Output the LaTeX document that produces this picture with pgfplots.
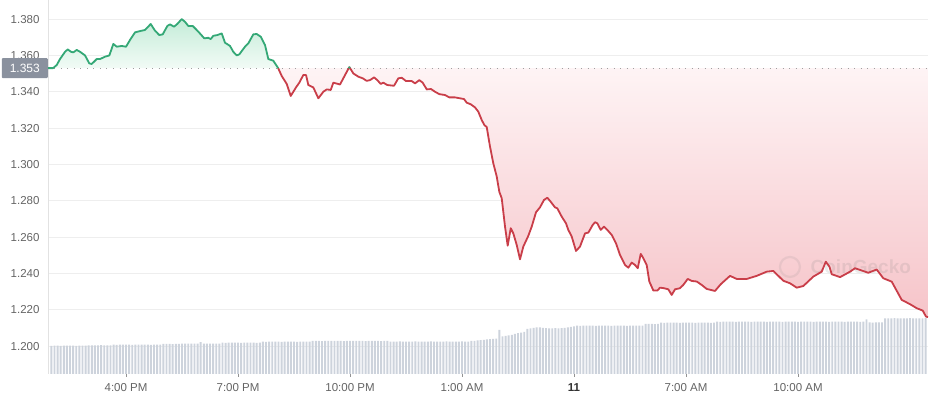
\documentclass[border=0pt]{standalone}
\usepackage{fontspec}
\setmainfont{Liberation Sans}
\usepackage{pgfplots}
\usepackage{pgfplotstable}
\pgfplotsset{compat=1.18}
\definecolor{upgreen}{RGB}{52,168,118}
\definecolor{downred}{RGB}{201,62,73}
\definecolor{gridgray}{RGB}{238,238,238}
\definecolor{leftline}{RGB}{226,226,226}
\definecolor{labgray}{RGB}{100,100,100}
\definecolor{volgray}{RGB}{205,211,220}
\definecolor{badgegray}{RGB}{138,145,158}
\definecolor{gtop}{RGB}{196,236,216}
\definecolor{gbot}{RGB}{242,251,246}
\definecolor{rtop}{RGB}{254,244,245}
\definecolor{rbot}{RGB}{246,196,201}

\pgfplotstableread{
m v
-125.4 1.3530
-117.3 1.3530
-111.4 1.3547
-106.1 1.3580
-98.0 1.3620
-93.7 1.3633
-88.4 1.3620
-84.7 1.3617
-79.2 1.3630
-73.9 1.3620
-65.9 1.3600
-59.0 1.3556
-55.1 1.3553
-47.1 1.3580
-41.8 1.3580
-33.7 1.3593
-26.8 1.3600
-20.4 1.3663
-14.9 1.3648
-6.9 1.3652
0.0 1.3648
6.4 1.3685
14.5 1.3727
22.5 1.3734
30.5 1.3740
39.7 1.3773
46.6 1.3736
53.5 1.3712
59.0 1.3716
66.4 1.3762
70.7 1.3771
77.1 1.3758
82.4 1.3773
89.5 1.3800
94.8 1.3785
100.1 1.3762
107.2 1.3762
113.6 1.3740
120.1 1.3716
125.8 1.3694
132.3 1.3697
136.1 1.3690
140.3 1.3708
146.7 1.3712
153.8 1.3721
159.1 1.3670
167.1 1.3652
172.4 1.3620
177.9 1.3600
182.1 1.3606
191.2 1.3648
196.5 1.3666
204.6 1.3716
210.0 1.3718
216.5 1.3703
223.4 1.3657
228.7 1.3580
236.7 1.3571
244.5 1.3530
}\greendata

\pgfplotstableread{
m v
244.5 1.3530
250.2 1.3487
258.3 1.3443
264.7 1.3377
273.2 1.3424
278.5 1.3450
284.9 1.3492
289.3 1.3492
293.0 1.3437
301.0 1.3424
309.1 1.3364
317.1 1.3400
322.6 1.3413
329.0 1.3410
333.2 1.3450
337.5 1.3446
343.9 1.3440
352.0 1.3492
357.9 1.3530
358.9 1.3535
360.0 1.3530
365.3 1.3501
373.3 1.3483
380.4 1.3474
386.8 1.3460
392.1 1.3464
398.6 1.3479
403.9 1.3464
409.3 1.3443
413.5 1.3450
419.9 1.3437
430.7 1.3433
437.6 1.3474
443.1 1.3477
450.0 1.3459
459.1 1.3459
464.5 1.3446
471.4 1.3464
476.8 1.3450
483.3 1.3413
490.2 1.3415
496.6 1.3400
503.5 1.3387
512.7 1.3382
519.6 1.3369
528.7 1.3369
536.8 1.3364
543.2 1.3360
547.5 1.3340
554.0 1.3331
560.9 1.3314
566.2 1.3290
571.6 1.3245
575.8 1.3217
579.7 1.3206
585.0 1.3098
590.3 1.3006
595.8 1.2933
599.9 1.2850
603.8 1.2814
609.1 1.2658
613.4 1.2553
618.3 1.2649
622.4 1.2621
627.9 1.2557
633.2 1.2478
638.5 1.2548
646.5 1.2607
652.0 1.2658
658.9 1.2737
665.3 1.2764
671.8 1.2805
677.1 1.2817
682.5 1.2795
689.4 1.2764
693.1 1.2759
700.2 1.2713
707.1 1.2676
710.8 1.2640
716.3 1.2603
723.2 1.2524
729.6 1.2548
737.7 1.2621
743.0 1.2625
750.0 1.2667
753.7 1.2682
757.4 1.2676
762.9 1.2640
768.2 1.2658
773.5 1.2640
780.6 1.2612
787.5 1.2566
793.9 1.2502
801.9 1.2447
807.3 1.2432
812.7 1.2460
818.0 1.2447
822.4 1.2429
827.2 1.2508
831.4 1.2484
836.8 1.2447
841.0 1.2356
847.5 1.2306
853.9 1.2306
858.2 1.2322
864.7 1.2319
871.5 1.2313
877.0 1.2282
882.3 1.2313
890.3 1.2319
895.6 1.2337
902.7 1.2370
909.1 1.2359
917.2 1.2356
925.2 1.2337
933.3 1.2315
946.6 1.2304
955.8 1.2341
970.7 1.2387
981.5 1.2370
997.6 1.2370
1013.6 1.2387
1029.7 1.2410
1040.3 1.2414
1056.4 1.2360
1067.2 1.2346
1077.9 1.2322
1088.5 1.2331
1104.6 1.2383
1118.1 1.2410
1124.6 1.2465
1130.4 1.2438
1134.2 1.2396
1147.6 1.2380
1163.6 1.2410
1171.6 1.2429
1192.9 1.2404
1206.4 1.2422
1217.0 1.2374
1230.6 1.2355
1246.6 1.2255
1260.0 1.2231
1270.7 1.2209
1280.4 1.2196
1285.7 1.2163
1288.9 1.2160
}\reddata

\begin{document}
\begin{tikzpicture}
\begin{axis}[name=price, scale only axis, width=880pt, height=374pt,
  xmin=-125.4, xmax=1288.9, ymin=1.1847, ymax=1.3905,
  axis lines*=left,
  x axis line style={draw=none},
  y axis line style={draw=leftline, line width=0.6pt},
  ymajorgrids, grid style={draw=gridgray, line width=0.7pt},
  ytick={1.200,1.220,1.240,1.260,1.280,1.300,1.320,1.340,1.360,1.380},
  yticklabels={1.200,1.220,1.240,1.260,1.280,1.300,1.320,1.340,1.360,1.380},
  xtick={0,180,360,540,720,900,1080},
  xticklabels={4:00 PM,7:00 PM,10:00 PM,1:00 AM,{\textbf{\color{black!80}11}},7:00 AM,10:00 AM},
  tick align=outside, major tick length=3pt,
  ytick style={draw=none},
  xtick style={draw=labgray!70, line width=0.6pt},
  tick label style={font=\fontsize{11.5}{13}\selectfont, text=labgray},
  yticklabel style={xshift=-2pt},
  xticklabel style={yshift=-3pt},
  no markers,
  clip mode=individual,
]
\addplot[draw=none, top color=gtop, bottom color=gbot] table[x=m,y=v] {\greendata} -- cycle;
\addplot[draw=none, top color=rtop, bottom color=rbot] table[x=m,y=v] {\reddata} -- (axis cs:1288.9,1.353) -- cycle;
\draw[color=gray!75, line width=0.9pt, dash pattern=on 0.9pt off 5.6pt] (axis cs:-125.4,1.353) -- (axis cs:1288.9,1.353);
\draw[gray, opacity=0.13, line width=2.2pt] (axis cs:1067,1.2436) circle[radius=10pt];
\node[anchor=west, text=gray, opacity=0.16, font=\fontsize{19}{21}\selectfont\bfseries, inner sep=0pt] at (axis cs:1100,1.2436) {CoinGecko};
\addplot[downred, line width=1.8pt, line join=round] table[x=m,y=v] {\reddata};
\addplot[upgreen, line width=1.8pt, line join=round] table[x=m,y=v] {\greendata};
\addplot[upgreen, line width=1.8pt, line join=round] coordinates {(357.9,1.3530)(358.9,1.3535)(360.0,1.3530)};
\node[fill=badgegray, text=white, anchor=east, minimum width=46pt, minimum height=20pt, inner sep=0pt, rounded corners=1pt, font=\fontsize{12}{14}\selectfont] at (axis cs:-125.4,1.353) {1.353};
\end{axis}
\begin{axis}[scale only axis, width=880pt, height=374pt,
  at={(price.south west)}, anchor=south west,
  xmin=-125.4, xmax=1288.9, ymin=0, ymax=374, hide axis,
  ybar, bar width=1.9pt]
\addplot[fill=volgray, draw=none] coordinates {
(-120,28.2)(-115,28.3)(-110,28.3)(-105,28.2)(-100,28.3)(-95,28.4)(-90,28.3)(-85,28.3)(-80,28.2)(-75,28.3)(-70,28.3)(-65,28.4)
(-60,28.7)(-55,28.6)(-50,28.7)(-45,28.7)(-40,28.8)(-35,28.7)(-30,28.6)(-25,28.7)
(-20,29.3)(-15,29.2)(-10,29.3)(-5,29.3)(0,29.4)(5,29.3)(10,29.2)(15,29.3)(20,29.3)(25,29.4)(30,29.3)(35,29.3)(40,29.2)(45,29.3)(50,29.4)(55,29.3)
(60,30.0)(65,30.1)(70,30.0)(75,29.9)(80,30.0)(85,30.1)
(90,30.3)(95,30.4)(100,30.3)(105,30.3)(110,30.4)(115,30.3)(120,31.8)(125,30.3)(130,30.4)(135,30.3)(140,30.3)(145,30.4)(150,30.3)
(155,31.3)(160,31.2)(165,31.3)(170,31.4)(175,31.3)(180,31.3)(185,31.2)(190,31.3)(195,31.4)(200,31.3)(205,31.3)(210,31.2)(215,31.3)
(220,32.3)(225,32.2)(230,32.3)(235,32.4)(240,32.3)(245,32.3)(250,32.2)(255,32.3)(260,32.4)(265,32.3)(270,32.3)(275,32.2)(280,32.3)(285,32.4)(290,32.3)(295,32.3)
(300,33.0)(305,33.1)(310,33.0)(315,32.9)(320,33.0)(325,33.1)(330,33.0)(335,33.0)(340,33.1)(345,33.0)(350,32.9)(355,33.0)(360,33.1)(365,33.0)(370,33.0)(375,33.1)(380,33.0)(385,32.9)(390,33.0)(395,33.1)(400,33.0)(405,33.0)(410,32.9)(415,33.0)(420,33.1)
(425,32.4)(430,32.3)(435,32.4)(440,32.5)(445,32.4)(450,32.4)(455,32.3)(460,32.4)(465,32.5)(470,32.4)(475,32.4)(480,32.3)(485,32.4)(490,32.5)(495,32.4)(500,32.4)(505,32.3)(510,32.4)(515,32.5)(520,32.4)(525,32.4)(530,32.3)(535,32.4)(540,32.5)(545,32.4)(550,32.4)
(555,33.0)(560,33.2)(565,33.5)(570,33.8)(575,34.0)
(580,34.5)(585,34.8)(590,35.0)(595,35.3)
(600,44.0)
(605,37.5)(610,38.0)(615,38.5)(620,39.0)
(625,40.0)(630,40.8)(635,41.3)(640,42.0)
(645,45.0)(650,45.5)(655,46.0)
(660,46.7)(665,46.5)(670,46.2)(675,45.8)(680,45.7)(685,45.7)(690,45.8)(695,45.7)(700,45.9)(705,46.0)(710,46.7)(715,47.0)(720,47.5)
(725,48.3)(730,48.2)(735,48.3)(740,48.4)(745,48.3)(750,48.3)(755,48.2)(760,48.3)(765,48.4)(770,48.3)(775,48.3)(780,48.2)(785,48.3)(790,48.4)(795,48.3)(800,48.3)(805,48.2)(810,48.3)(815,48.4)(820,48.3)(825,48.3)(830,48.4)
(835,50.0)(840,50.1)(845,50.0)(850,49.9)(855,50.0)
(860,51.3)(865,51.2)(870,51.3)(875,51.4)(880,51.3)(885,51.3)(890,51.2)(895,51.3)(900,51.4)(905,51.3)(910,51.3)(915,51.2)(920,51.3)(925,51.4)(930,51.3)(935,51.3)(940,51.2)(945,51.3)
(950,52.3)(955,52.2)(960,52.3)(965,52.4)(970,52.3)(975,52.3)(980,52.2)(985,52.3)(990,52.4)(995,52.3)(1000,52.3)(1005,52.2)(1010,52.3)(1015,52.4)(1020,52.3)(1025,52.3)
(1030,52.2)(1035,52.3)(1040,52.4)(1045,52.3)(1050,52.3)(1055,52.2)(1060,52.3)(1065,52.4)(1070,52.3)(1075,52.3)(1080,52.2)(1085,52.3)(1090,52.4)(1095,52.3)(1100,52.3)(1105,52.2)
(1110,52.3)(1115,52.4)(1120,52.3)(1125,52.3)(1130,52.2)(1135,52.3)(1140,52.4)(1145,52.3)(1150,52.3)(1155,52.2)(1160,52.3)(1165,52.4)(1170,52.3)(1175,52.3)(1180,52.2)(1185,52.3)
(1190,54.7)
(1195,51.5)(1200,51.4)(1205,51.5)(1210,51.6)(1215,51.5)
(1220,55.7)(1225,55.6)(1230,55.7)(1235,55.8)(1240,55.7)(1245,55.7)(1250,55.6)(1255,55.7)(1260,55.8)(1265,55.7)(1270,55.7)(1275,55.6)(1280,55.7)(1285,55.8)
};
\end{axis}
\pgfresetboundingbox
\path ([shift={(-48pt,-26pt)}]price.south west) rectangle ([shift={(1pt,0pt)}]price.north east);
\end{tikzpicture}
\end{document}
